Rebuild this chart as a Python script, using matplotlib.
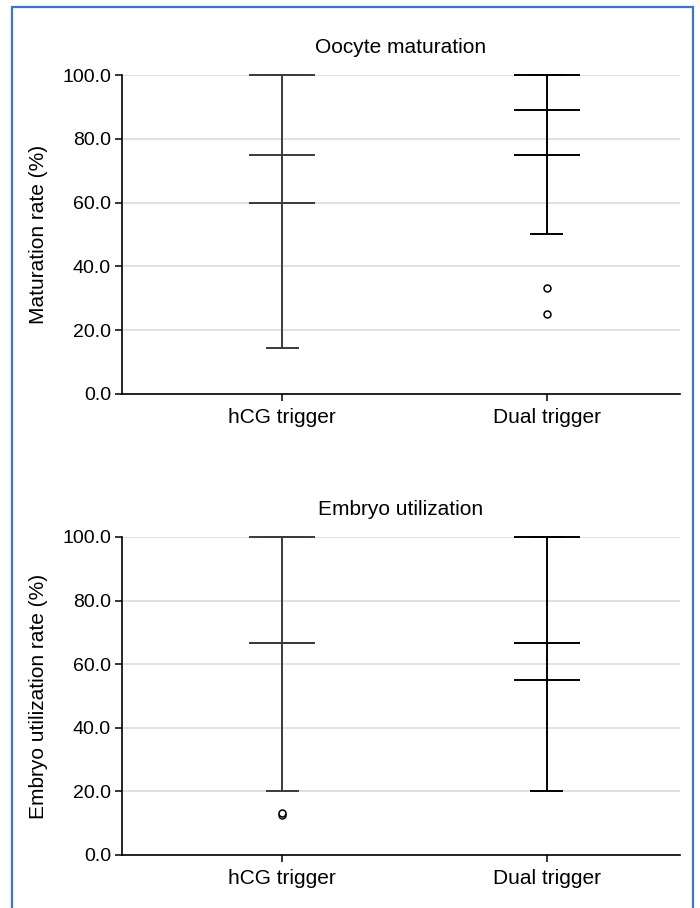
import matplotlib.pyplot as plt
from matplotlib.patches import Rectangle

plt.rcParams['font.family'] = ['Liberation Sans', 'DejaVu Sans']

groups = ["hCG trigger", "Dual trigger"]
positions = [1, 2]

# oocyte maturation rate (%)
mat_whislo = [14.3, 50.0]
mat_q1 = [60.0, 75.0]
mat_med = [75.0, 88.9]
mat_q3 = [100.0, 100.0]
mat_whishi = [100.0, 100.0]
mat_fliers = [[], [33.3, 25.0]]

# embryo utilization rate (%)
emb_whislo = [20.0, 20.0]
emb_q1 = [66.7, 55.0]
emb_med = [66.7, 66.7]
emb_q3 = [100.0, 100.0]
emb_whishi = [100.0, 100.0]
emb_fliers = [[12.5, 13.3], []]

line_cols = ["#3a3a3a", "#000000"]
box_w = 0.25
cap_w = 0.117


def make_stats(whislo, q1, med, q3, whishi, fliers):
    stats = []
    for i in range(len(groups)):
        stats.append(dict(whislo=whislo[i], q1=q1[i], med=med[i], q3=q3[i],
                          whishi=whishi[i], fliers=fliers[i], label=groups[i]))
    return stats


def draw_panel(ax, stats, title, ylabel):
    for i, st in enumerate(stats):
        c = line_cols[i]
        art = ax.bxp([st], positions=[positions[i]], widths=box_w,
                     capwidths=cap_w, showbox=False, showcaps=True,
                     whiskerprops=dict(color=c, lw=1.4),
                     capprops=dict(color=c, lw=1.4),
                     medianprops=dict(color=c, lw=1.4),
                     flierprops=dict(marker='o', markerfacecolor='white',
                                     markeredgecolor='black', markersize=5,
                                     markeredgewidth=1.1),
                     manage_ticks=False)
        # box has only its horizontal edges and the line through it
        ax.vlines(positions[i], st['q1'], st['q3'], color=c, lw=1.4, zorder=2)
        ax.hlines([st['q1'], st['q3']], positions[i] - box_w / 2,
                  positions[i] + box_w / 2, color=c, lw=1.4, zorder=2,
                  clip_on=False)
        for key in art:
            for a in art[key]:
                a.set_clip_on(False)

    ax.set_xlim(0.396, 2.502)
    ax.set_ylim(0, 100)
    ax.set_xticks(positions)
    ax.set_xticklabels(groups, fontsize=15)
    ax.set_yticks([0, 20, 40, 60, 80, 100])
    ax.set_yticklabels(["0.0", "20.0", "40.0", "60.0", "80.0", "100.0"], fontsize=14)
    ax.tick_params(axis='both', direction='out', length=5, width=1.1, pad=3)
    ax.tick_params(axis='x', pad=5)
    ax.yaxis.grid(True, color='#d9d9d9', lw=1.1)
    ax.set_axisbelow(True)
    for s in ['top', 'right']:
        ax.spines[s].set_visible(False)
    for s in ['left', 'bottom']:
        ax.spines[s].set_linewidth(1.2)
    ax.set_title(title, fontsize=15, pad=16)
    ax.set_ylabel(ylabel, fontsize=15, labelpad=10)


fig = plt.figure(figsize=(7.0, 9.08), dpi=100)
ax1 = fig.add_axes([0.1743, 0.5661, 0.797, 0.3513])
ax2 = fig.add_axes([0.1743, 0.0584, 0.797, 0.3502])

draw_panel(ax1, make_stats(mat_whislo, mat_q1, mat_med, mat_q3, mat_whishi, mat_fliers),
           "Oocyte maturation", "Maturation rate (%)")
draw_panel(ax2, make_stats(emb_whislo, emb_q1, emb_med, emb_q3, emb_whishi, emb_fliers),
           "Embryo utilization", "Embryo utilization rate (%)")

# blue frame around the figure, open at the bottom
fig.patches.append(Rectangle((12 / 700, -0.05), (693 - 12) / 700, 1.05 - 7 / 908,
                             transform=fig.transFigure, fill=False,
                             edgecolor='#3d76c8', lw=1.6))

plt.savefig("out.png", dpi=100)
